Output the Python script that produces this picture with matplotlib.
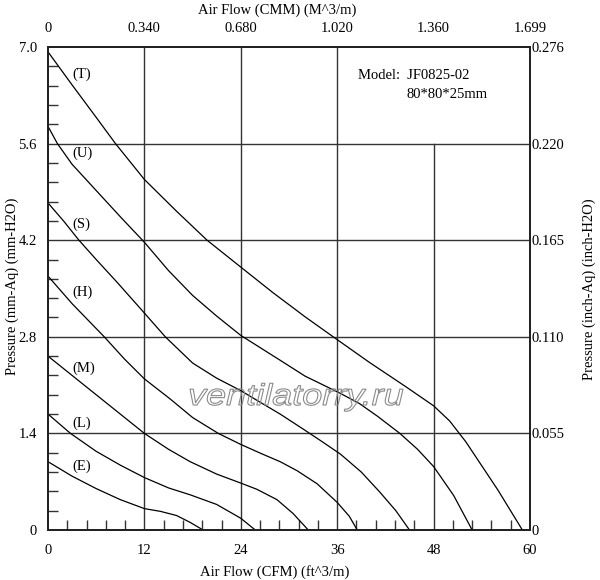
import matplotlib; matplotlib.use("Agg")
import matplotlib.pyplot as plt
from matplotlib.textpath import TextPath
from matplotlib.patches import PathPatch
from matplotlib.font_manager import FontProperties
from matplotlib.transforms import Affine2D
import numpy as np

plt.rcParams['font.family'] = ['Liberation Serif', 'DejaVu Serif']

# P-Q curves (x = CFM, y = mm-H2O)
t_cfm = [0, 3, 6, 8.4, 12, 16, 19.8, 24, 28, 32, 35.5, 40, 44.5, 48, 50, 52, 54, 56, 58, 59.05]
t_p   = [6.93, 6.45, 5.98, 5.6, 5.08, 4.62, 4.2, 3.81, 3.44, 3.09, 2.8, 2.43, 2.08, 1.8, 1.58, 1.28, 0.93, 0.58, 0.2, 0]
u_cfm = [0, 1.17, 3, 6, 9, 12, 15, 18, 21, 24, 28.9, 32, 36.4, 38.8, 41, 43.8, 46, 48, 50.5, 52.8]
u_p   = [5.85, 5.6, 5.3, 4.92, 4.54, 4.17, 3.76, 3.4, 3.1, 2.82, 2.46, 2.23, 1.98, 1.83, 1.65, 1.4, 1.17, 0.92, 0.5, 0]
s_cfm = [0, 2, 3.85, 6, 8.6, 11.5, 14.6, 18, 21, 24, 26, 28.9, 31.8, 34, 36.4, 39, 41.3, 43.3, 45]
s_p   = [4.74, 4.47, 4.2, 3.92, 3.59, 3.21, 2.8, 2.42, 2.2, 2.02, 1.88, 1.68, 1.46, 1.29, 1.1, 0.84, 0.55, 0.28, 0]
h_cfm = [0, 3, 7, 9.5, 12, 15.2, 18, 21.2, 24, 26.5, 28.9, 31, 33.5, 36, 37.5, 38.5]
h_p   = [3.68, 3.28, 2.8, 2.48, 2.19, 1.9, 1.63, 1.4, 1.24, 1.11, 0.99, 0.86, 0.67, 0.4, 0.2, 0]
m_cfm = [0, 3, 6, 9, 12, 15, 17.7, 21, 24, 26, 28.5, 30.5, 32.4]
m_p   = [2.52, 2.24, 1.96, 1.68, 1.4, 1.17, 0.99, 0.81, 0.68, 0.59, 0.44, 0.24, 0]
l_cfm = [0, 2.8, 6, 9, 12, 15, 17.7, 21, 24, 25.8]
l_p   = [1.68, 1.4, 1.14, 0.94, 0.76, 0.61, 0.51, 0.37, 0.17, 0]
e_cfm = [0, 3, 6, 9, 12, 14, 16, 17.7, 19.3]
e_p   = [0.99, 0.78, 0.6, 0.44, 0.31, 0.27, 0.21, 0.11, 0]

curves = [("(T)", t_cfm, t_p, 6.6), ("(U)", u_cfm, u_p, 5.46), ("(S)", s_cfm, s_p, 4.43),
          ("(H)", h_cfm, h_p, 3.45), ("(M)", m_cfm, m_p, 2.35), ("(L)", l_cfm, l_p, 1.55),
          ("(E)", e_cfm, e_p, 0.93)]

cfm_ticks = [0, 12, 24, 36, 48, 60]
cmm_labels = ["0", "0.340", "0.680", "1.020", "1.360", "1.699"]
mm_ticks = [0, 1.4, 2.8, 4.2, 5.6, 7.0]
mm_labels = ["0", "1.4", "2.8", "4.2", "5.6", "7.0"]
inch_labels = ["0", "0.055", "0.110", "0.165", "0.220", "0.276"]

fig = plt.figure(figsize=(6.0, 5.8), dpi=100)
ax = fig.add_axes([48/600, 1-530/580, 482/600, 483/580])
ax.set_xlim(0, 60); ax.set_ylim(0, 7)

gc = "#333333"
for x in [12, 24, 36]:
    ax.plot([x, x], [0, 7], color=gc, lw=1.0, zorder=1)
ax.plot([48, 48], [0, 5.6], color=gc, lw=1.0, zorder=1)
for y in [1.4, 2.8, 4.2, 5.6]:
    ax.plot([0, 60], [y, y], color=gc, lw=1.0, zorder=1)

for lab, xs, ys, ly in curves:
    ax.plot(xs, ys, color="black", lw=0.9, zorder=3)
    ax.text(3.0, ly, lab, fontsize=10.5, va="center", ha="left", zorder=4)

ax.text(38.6, 6.59, "Model:  JF0825-02", fontsize=10.5, va="center", ha="left")
ax.text(44.6, 6.31, "80*80*25mm", fontsize=10.5, va="center", ha="left")

# watermark: outlined italic text, stretched to the width seen in the picture
wm = TextPath((0, 0), "ventilatorry.ru", size=30,
              prop=FontProperties(family="Liberation Sans", style="italic"))
bb = wm.get_extents()
sx = 213 / bb.width
wm_tr = Affine2D().translate(-bb.x0, 0).scale(sx, 1.0).translate(190, 580 - 405)
fig.add_artist(PathPatch(wm, facecolor="none", edgecolor="#8a8a8a", lw=0.8,
                         transform=wm_tr, zorder=5))

minor_x = [v for v in np.arange(0, 60.01, 2.4) if round(v, 3) % 12 != 0]
minor_y = [v for v in np.arange(0, 7.01, 0.28) if abs(v / 1.4 - round(v / 1.4)) > 1e-6]

ax.set_xticks(cfm_ticks); ax.set_xticklabels([str(v) for v in cfm_ticks])
ax.set_yticks(mm_ticks); ax.set_yticklabels(mm_labels)
ax.set_xticks(minor_x, minor=True); ax.set_yticks(minor_y, minor=True)
ax.tick_params(which="major", length=0, labelsize=10.5)
ax.tick_params(axis="x", which="major", pad=10)
ax.tick_params(axis="y", which="major", pad=8)
ax.tick_params(which="minor", direction="in", length=7, width=1, color=gc,
               top=True, right=True)

ax2 = ax.twiny()
ax2.set_xlim(0, 60)
ax2.set_xticks(cfm_ticks); ax2.set_xticklabels(cmm_labels)
ax2.tick_params(length=0, labelsize=10.5, pad=9)

ax3 = ax.twinx()
ax3.set_ylim(0, 7)
ax3.set_yticks(mm_ticks); ax3.set_yticklabels(inch_labels)
ax3.tick_params(length=0, labelsize=10.5, pad=1)

for a in (ax, ax2, ax3):
    for s in a.spines.values():
        s.set_linewidth(1.2); s.set_color("#222222")

fig.text(277/600, 1-10/580, "Air Flow (CMM) (M^3/m)", fontsize=10.5, ha="center", va="center")
fig.text(275/600, 1-572/580, "Air Flow (CFM) (ft^3/m)", fontsize=10.5, ha="center", va="center")
fig.text(12/600, 1-286/580, "Pressure (mm-Aq) (mm-H2O)", fontsize=10.5, rotation=90,
         ha="center", va="center")
fig.text(589/600, 1-289/580, "Pressure (inch-Aq) (inch-H2O)", fontsize=10.5, rotation=90,
         ha="center", va="center")

fig.savefig("out.png", dpi=100)
